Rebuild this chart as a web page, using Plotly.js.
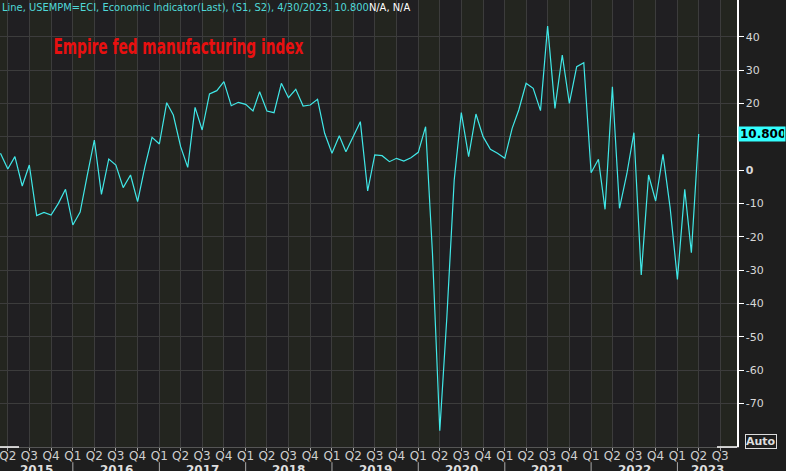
<!DOCTYPE html>
<html>
<head>
<meta charset="utf-8">
<script src="https://cdn.plot.ly/plotly-3.0.1.min.js"></script>
<style>
  html, body { margin: 0; padding: 0; background: #1e1e1e; }
  #chart { width: 786px; height: 471px; }
</style>
</head>
<body>
<div id="chart"></div>
<script>
// ---- Data (monthly Empire State manufacturing index) ----
const firstMonth = '2015-03';
const v2015 = [5.0, 0.3, 4.0, -4.8, 1.5, -13.7, -12.7, -13.5, -10.0, -5.8]; // Mar..Dec
const v2016 = [-16.5, -12.6, -2.0, 9.0, -7.3, 3.3, 1.5, -5.3, -1.5, -9.5, 1.0, 9.8];
const v2017 = [7.8, 20.2, 16.5, 7.0, 0.8, 18.8, 12.0, 22.8, 23.8, 26.5, 19.3, 20.3];
const v2018 = [19.7, 17.7, 23.5, 17.7, 17.2, 26.0, 21.7, 24.2, 19.2, 19.5, 21.2, 11.0];
const v2019 = [5.0, 10.3, 5.5, 10.0, 14.5, -6.3, 4.5, 4.3, 2.5, 3.5, 2.7, 3.7];
const v2020 = [5.3, 13.0, -25.0, -78.2, -44.0, -3.0, 17.2, 4.0, 16.8, 10.0, 6.2, 5.0];
const v2021 = [3.5, 12.5, 18.0, 26.0, 24.5, 17.8, 43.2, 18.5, 34.5, 20.0, 31.0, 32.2];
const v2022 = [-0.8, 3.2, -11.8, 25.0, -11.5, -1.2, 11.2, -31.5, -1.5, -9.3, 4.7, -11.2];
const v2023 = [-32.8, -5.8, -24.8, 10.8]; // Jan..Apr
const lastValue = 10.8;

const yearLabels = ['2015', '2016', '2017', '2018', '2019', '2020', '2021', '2022', '2023'];
const quarterNames = ['Q1', 'Q2', 'Q3', 'Q4'];
const yTicks = [-70, -60, -50, -40, -30, -20, -10, 0, 10, 20, 30, 40];
const headerText = 'Line, USEMPM=ECI, Economic Indicator(Last), (S1, S2), 4/30/2023, 10.800';
const headerTail = 'N/A, N/A';
const chartLabel = 'Empire fed manufacturing index';

// ---- Build series ----
const values = [].concat(v2015, v2016, v2017, v2018, v2019, v2020, v2021, v2022, v2023);
const dates = [];
{
  let y = parseInt(firstMonth.slice(0, 4)), m = parseInt(firstMonth.slice(5, 7));
  for (let i = 0; i < values.length; i++) {
    dates.push(y + '-' + String(m).padStart(2, '0') + '-01');
    m++; if (m > 12) { m = 1; y++; }
  }
}

const xStart = '2015-02-27';
const xEnd = '2023-09-10';
const toMs = s => new Date(s + 'T00:00:00Z').getTime();

// quarter ticks + alternating quarter bands
const tickvals = [], ticktext = [];
const shapes = [];
for (let yi = 0; yi < yearLabels.length; yi++) {
  const yr = parseInt(yearLabels[yi]);
  for (let q = 0; q < 4; q++) {
    const d = yr + '-' + String(q * 3 + 1).padStart(2, '0') + '-01';
    const nq = q === 3 ? (yr + 1) + '-01-01' : yr + '-' + String(q * 3 + 4).padStart(2, '0') + '-01';
    if (toMs(d) >= toMs(xStart) && toMs(d) <= toMs(xEnd)) {
      tickvals.push(d); ticktext.push(quarterNames[q]);
    }
    shapes.push({
      type: 'rect', xref: 'x', yref: 'paper', x0: d, x1: nq, y0: 0, y1: 1,
      fillcolor: (q % 2 === 0) ? '#23251f' : '#201f22', line: { width: 0 }, layer: 'below'
    });
  }
}

// year labels & separators
const annotations = [];
for (let yi = 0; yi < yearLabels.length; yi++) {
  const yr = parseInt(yearLabels[yi]);
  const a = Math.max(toMs(yr + '-01-01'), toMs(xStart));
  const b = Math.min(toMs((yr + 1) + '-01-01'), toMs(xEnd));
  annotations.push({
    x: new Date((a + b) / 2).toISOString().slice(0, 10), xref: 'x',
    y: -0.0515, yref: 'paper', yanchor: 'middle', xanchor: 'center',
    text: '<b>' + yearLabels[yi] + '</b>', showarrow: false,
    font: { family: 'DejaVu Sans', size: 12, color: '#dddddd' }
  });
  if (yi > 0) {
    shapes.push({
      type: 'line', xref: 'x', yref: 'paper', x0: yr + '-01-01', x1: yr + '-01-01',
      y0: -0.034, y1: -0.06, line: { color: '#aaaaaa', width: 1 }
    });
  }
}

// header text
annotations.push({
  x: 0, xref: 'paper', xanchor: 'left', y: 1, yref: 'paper', yanchor: 'top', yshift: 1,
  text: headerText + '<span style="color:#ffffff">' + headerTail + '</span>',
  showarrow: false, align: 'left',
  font: { family: 'DejaVu Sans Condensed, DejaVu Sans', size: 11, color: '#4fd8d8' }
});
// red label (squeezed horizontally after render)
annotations.push({
  x: 178 / 737, xref: 'paper', xanchor: 'center', y: 1 - 46 / 447, yref: 'paper', yanchor: 'middle',
  text: chartLabel, showarrow: false, name: 'redlabel',
  font: { family: 'DejaVu Sans', size: 22, weight: 'bold', color: '#e81010' }
});
// last value tag
annotations.push({
  x: 1, xref: 'paper', xanchor: 'left', xshift: 1, y: lastValue, yref: 'y', yanchor: 'middle',
  text: '<b>' + lastValue.toFixed(3) + '</b>', showarrow: false, align: 'left',
  bgcolor: '#33ffff', width: 44, height: 12, borderpad: 1,
  font: { family: 'DejaVu Sans', size: 12, color: '#000000' }
});
// Auto box
annotations.push({
  x: 1, xref: 'paper', xanchor: 'left', xshift: 8, y: 0.013, yref: 'paper', yanchor: 'middle',
  text: '<b>Auto</b>', showarrow: false,
  bgcolor: '#1e1e1e', bordercolor: '#dddddd', borderwidth: 1, borderpad: 0,
  font: { family: 'DejaVu Sans', size: 11, color: '#dddddd' }
});

// scrollbar-like white segments on the bottom line
shapes.push({ type: 'line', xref: 'paper', yref: 'paper', x0: 0, x1: 19 / 737, y0: 0, y1: 0,
  line: { color: '#ffffff', width: 1.5 } });
shapes.push({ type: 'line', xref: 'paper', yref: 'paper', x0: 717 / 737, x1: 1, y0: 0, y1: 0,
  line: { color: '#ffffff', width: 1.5 } });

const trace = {
  x: dates, y: values, type: 'scatter', mode: 'lines',
  line: { color: '#40e8e8', width: 1.2, shape: 'linear' },
  hoverinfo: 'skip'
};

const layout = {
  width: 786, height: 471,
  margin: { l: 0, r: 49, t: 0, b: 24, pad: 0 },
  paper_bgcolor: '#1e1e1e',
  plot_bgcolor: '#222222',
  showlegend: false,
  xaxis: {
    type: 'date', range: [xStart, xEnd],
    tickmode: 'array', tickvals: tickvals, ticktext: ticktext,
    ticks: 'outside', ticklen: 3, tickcolor: '#aaaaaa',
    ticklabelstandoff: -5, ticklabeloverflow: 'allow',
    tickfont: { family: 'DejaVu Sans', size: 12, color: '#cfcfcf' },
    showgrid: true, gridcolor: '#3c3c3c', gridwidth: 1,
    showline: true, linecolor: '#555555', linewidth: 1,
    zeroline: false, fixedrange: true
  },
  yaxis: {
    side: 'right', range: [-83.1, 51],
    tickmode: 'array', tickvals: yTicks,
    ticktext: yTicks.map(v => v === 0 ? '<b>0</b>' : String(v)),
    ticks: 'outside', ticklen: 5, tickcolor: '#ffffff',
    tickfont: { family: 'DejaVu Sans', size: 11, color: '#d8d8d8' },
    showgrid: true, gridcolor: '#3c3c3c', gridwidth: 1,
    showline: true, linecolor: '#ffffff', linewidth: 1.5,
    zeroline: false, fixedrange: true
  },
  shapes: shapes,
  annotations: annotations
};

Plotly.newPlot('chart', [trace], layout, { staticPlot: true, displayModeBar: false }).then(gd => {
  // squeeze the condensed red label to its width in the reference (~250px)
  gd.querySelectorAll('text.annotation-text').forEach(t => {
    if (t.textContent === chartLabel) {
      t.setAttribute('textLength', '250');
      t.setAttribute('lengthAdjust', 'spacingAndGlyphs');
    }
  });
});
</script>
</body>
</html>
